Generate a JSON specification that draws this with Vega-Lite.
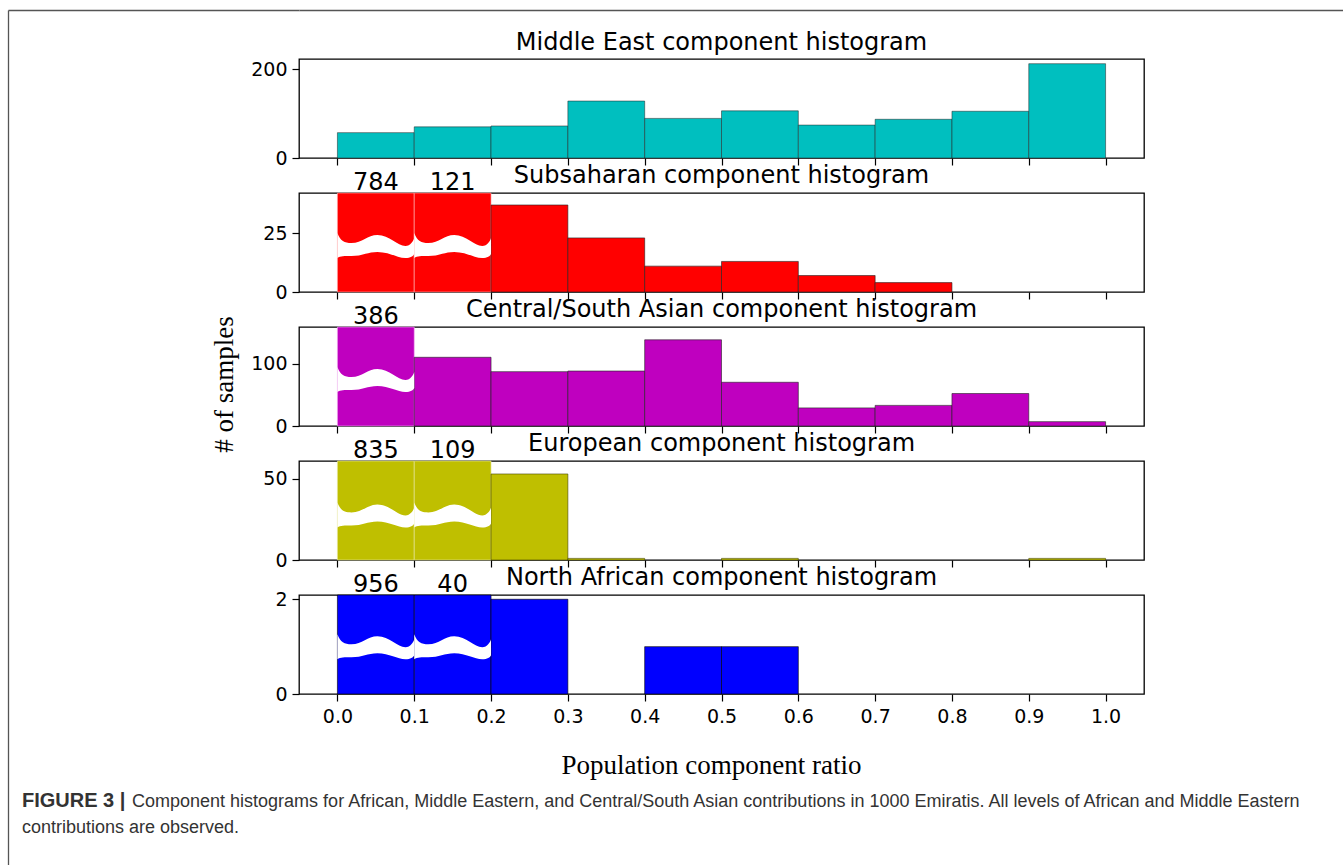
{
  "$schema": "https://vega.github.io/schema/vega-lite/v6.json",
  "padding": {"left": 8, "top": 10, "right": 0, "bottom": 0},
  "background": "white",
  "datasets": {
    "hist": [
      {"panel": "Middle East", "start": 0.0, "end": 0.1, "count": 57},
      {"panel": "Middle East", "start": 0.1, "end": 0.2, "count": 70},
      {"panel": "Middle East", "start": 0.2, "end": 0.3, "count": 72},
      {"panel": "Middle East", "start": 0.3, "end": 0.4, "count": 128},
      {"panel": "Middle East", "start": 0.4, "end": 0.5, "count": 89},
      {"panel": "Middle East", "start": 0.5, "end": 0.6, "count": 106},
      {"panel": "Middle East", "start": 0.6, "end": 0.7, "count": 74},
      {"panel": "Middle East", "start": 0.7, "end": 0.8, "count": 87},
      {"panel": "Middle East", "start": 0.8, "end": 0.9, "count": 105},
      {"panel": "Middle East", "start": 0.9, "end": 1.0, "count": 212},
      {"panel": "Subsaharan", "start": 0.0, "end": 0.1, "count": 784},
      {"panel": "Subsaharan", "start": 0.1, "end": 0.2, "count": 121},
      {"panel": "Subsaharan", "start": 0.2, "end": 0.3, "count": 37},
      {"panel": "Subsaharan", "start": 0.3, "end": 0.4, "count": 23},
      {"panel": "Subsaharan", "start": 0.4, "end": 0.5, "count": 11},
      {"panel": "Subsaharan", "start": 0.5, "end": 0.6, "count": 13},
      {"panel": "Subsaharan", "start": 0.6, "end": 0.7, "count": 7},
      {"panel": "Subsaharan", "start": 0.7, "end": 0.8, "count": 4},
      {"panel": "Central/South Asian", "start": 0.0, "end": 0.1, "count": 386},
      {"panel": "Central/South Asian", "start": 0.1, "end": 0.2, "count": 110},
      {"panel": "Central/South Asian", "start": 0.2, "end": 0.3, "count": 87},
      {"panel": "Central/South Asian", "start": 0.3, "end": 0.4, "count": 88},
      {"panel": "Central/South Asian", "start": 0.4, "end": 0.5, "count": 138},
      {"panel": "Central/South Asian", "start": 0.5, "end": 0.6, "count": 70},
      {"panel": "Central/South Asian", "start": 0.6, "end": 0.7, "count": 29},
      {"panel": "Central/South Asian", "start": 0.7, "end": 0.8, "count": 33},
      {"panel": "Central/South Asian", "start": 0.8, "end": 0.9, "count": 52},
      {"panel": "Central/South Asian", "start": 0.9, "end": 1.0, "count": 7},
      {"panel": "European", "start": 0.0, "end": 0.1, "count": 835},
      {"panel": "European", "start": 0.1, "end": 0.2, "count": 109},
      {"panel": "European", "start": 0.2, "end": 0.3, "count": 53},
      {"panel": "European", "start": 0.3, "end": 0.4, "count": 1},
      {"panel": "European", "start": 0.5, "end": 0.6, "count": 1},
      {"panel": "European", "start": 0.9, "end": 1.0, "count": 1},
      {"panel": "North African", "start": 0.0, "end": 0.1, "count": 956},
      {"panel": "North African", "start": 0.1, "end": 0.2, "count": 40},
      {"panel": "North African", "start": 0.2, "end": 0.3, "count": 2},
      {"panel": "North African", "start": 0.4, "end": 0.5, "count": 1},
      {"panel": "North African", "start": 0.5, "end": 0.6, "count": 1}
    ]
  },
  "bounds": "flush",
  "spacing": 0,
  "hconcat": [
    {
      "width": 291,
      "height": 855,
      "view": {"stroke": null},
      "data": {"values": [{}]},
      "title": {
        "text": "FIGURE 3 |",
        "subtitle": [
          "\u200b\u00a0\u00a0\u00a0\u00a0\u00a0\u00a0\u00a0\u00a0\u00a0\u00a0\u00a0\u00a0\u00a0\u00a0\u00a0\u00a0\u00a0\u00a0\u00a0\u00a0\u00a0\u00a0Component histograms for African, Middle Eastern, and Central/South Asian contributions in 1000 Emiratis. All levels of African and Middle Eastern",
          "contributions are observed."
        ],
        "orient": "bottom",
        "anchor": "start",
        "frame": "group",
        "offset": -74,
        "dx": 14,
        "font": "Liberation Sans",
        "fontSize": 20,
        "fontWeight": "bold",
        "color": "#333333",
        "subtitleFont": "Liberation Sans",
        "subtitleFontSize": 18,
        "subtitleFontWeight": "normal",
        "subtitleColor": "#333333",
        "subtitlePadding": -18.4,
        "subtitleLineHeight": 26
      },
      "mark": {"type": "point", "size": 0, "opacity": 0},
      "encoding": {
        "x": {"datum": 0, "type": "quantitative", "scale": {"domain": [0, 1]},
          "axis": {"orient": "top", "domain": true, "domainColor": "#555555", "domainWidth": 1.3, "ticks": false, "labels": false, "grid": false, "title": null}},
        "y": {"datum": 1, "type": "quantitative", "scale": {"domain": [0, 1]},
          "axis": {"orient": "left", "domain": true, "domainColor": "#555555", "domainWidth": 1.3, "ticks": false, "labels": false, "grid": false, "title": null}}
      }
    },
    {
      "bounds": "flush",
      "spacing": 35,
      "vconcat": [
        {
          "width": 1044,
          "height": 14,
          "view": {"stroke": null},
          "data": {"values": [{}]},
          "mark": {"type": "point", "size": 0, "opacity": 0},
          "encoding": {
            "x": {"datum": 0, "type": "quantitative", "scale": {"domain": [0, 1]},
              "axis": {"orient": "top", "domain": true, "domainColor": "#555555", "domainWidth": 1.3, "ticks": false, "labels": false, "grid": false, "title": null}}
          }
        },
        {
          "width": 845,
          "height": 99,
          "title": {"text": "Middle East component histogram", "frame": "group", "offset": 4},
          "data": {"name": "hist"},
          "transform": [{"filter": {"field": "panel", "equal": "Middle East"}}],
          "mark": {"type": "rect", "fill": "#00bfbf", "stroke": "#222222", "strokeWidth": 0.5},
          "encoding": {
            "x": {"field": "start", "type": "quantitative", "scale": {"domain": [-0.05, 1.05], "nice": false, "zero": false},
              "axis": {"values": [0, 0.1, 0.2, 0.3, 0.4, 0.5, 0.6, 0.7, 0.8, 0.9, 1.0], "labels": false, "title": null}},
            "x2": {"field": "end"},
            "y": {"field": "count", "type": "quantitative", "scale": {"domain": [0, 222.5], "nice": false, "clamp": true},
              "axis": {"values": [0, 200], "title": null}},
            "y2": {"datum": 0}
          }
        },
        {
          "width": 845,
          "height": 99,
          "title": {"text": "Subsaharan component histogram", "frame": "group", "offset": -17},
          "data": {"name": "hist"},
          "transform": [{"filter": {"field": "panel", "equal": "Subsaharan"}}],
          "encoding": {
            "x": {"field": "start", "type": "quantitative", "scale": {"domain": [-0.05, 1.05], "nice": false, "zero": false},
              "axis": {"values": [0, 0.1, 0.2, 0.3, 0.4, 0.5, 0.6, 0.7, 0.8, 0.9, 1.0], "labels": false, "title": null}},
            "y": {"field": "count", "type": "quantitative", "scale": {"domain": [0, 42.1], "nice": false, "clamp": true},
              "axis": {"values": [0, 25], "title": null}}
          },
          "layer": [
            {
              "mark": {"type": "rect", "fill": "#ff0000", "strokeWidth": 0.6},
              "encoding": {
                "x2": {"field": "end"},
                "y2": {"datum": 0},
                "stroke": {"condition": {"test": "datum.count > 42.1", "value": "#ffb0b0"}, "value": "#222222"}
              }
            },
            {
              "transform": [{"filter": "datum.count > 42.1"}],
              "mark": {"type": "text", "dx": 38.4, "dy": -3, "baseline": "alphabetic", "align": "center", "font": "DejaVu Sans", "fontSize": 24, "color": "#000000"},
              "encoding": {"text": {"field": "count", "type": "quantitative"}}
            },
            {
              "transform": [{"filter": "datum.count > 42.1"}],
              "mark": {"type": "point", "shape": "M0,-0.286 C0.078,-0.078 0.182,-0.026 0.365,-0.026 C0.651,-0.026 0.781,-0.234 1.042,-0.234 C1.354,-0.234 1.563,0.052 1.771,0.052 C1.901,0.052 1.979,-0.078 2,-0.156 L2,0.26 C1.979,0.313 1.901,0.365 1.771,0.365 C1.563,0.365 1.354,0.208 1.042,0.208 C0.781,0.208 0.651,0.313 0.365,0.313 C0.182,0.313 0.078,0.313 0,0.365 Z", "size": 5898, "filled": true, "fill": "#ffffff", "opacity": 1, "strokeWidth": 0},
              "encoding": {"y": {"datum": 20.4}}
            }
          ]
        },
        {
          "width": 845,
          "height": 99,
          "title": {"text": "Central/South Asian component histogram", "frame": "group", "offset": -17},
          "data": {"name": "hist"},
          "transform": [{"filter": {"field": "panel", "equal": "Central/South Asian"}}],
          "encoding": {
            "x": {"field": "start", "type": "quantitative", "scale": {"domain": [-0.05, 1.05], "nice": false, "zero": false},
              "axis": {"values": [0, 0.1, 0.2, 0.3, 0.4, 0.5, 0.6, 0.7, 0.8, 0.9, 1.0], "labels": false, "title": null}},
            "y": {"field": "count", "type": "quantitative", "scale": {"domain": [0, 158.5], "nice": false, "clamp": true},
              "axis": {"values": [0, 100], "title": "# of samples", "titleFont": "Liberation Serif", "titleFontSize": 27, "titleFontWeight": "normal", "titleColor": "#000000", "titlePadding": 12, "titleY": 57}}
          },
          "layer": [
            {
              "mark": {"type": "rect", "fill": "#bf00bf", "strokeWidth": 0.6},
              "encoding": {
                "x2": {"field": "end"},
                "y2": {"datum": 0},
                "stroke": {"condition": {"test": "datum.count > 158.5", "value": "#f0b0f0"}, "value": "#222222"}
              }
            },
            {
              "transform": [{"filter": "datum.count > 158.5"}],
              "mark": {"type": "text", "dx": 38.4, "dy": -3, "baseline": "alphabetic", "align": "center", "font": "DejaVu Sans", "fontSize": 24, "color": "#000000"},
              "encoding": {"text": {"field": "count", "type": "quantitative"}}
            },
            {
              "transform": [{"filter": "datum.count > 158.5"}],
              "mark": {"type": "point", "shape": "M0,-0.286 C0.078,-0.078 0.182,-0.026 0.365,-0.026 C0.651,-0.026 0.781,-0.234 1.042,-0.234 C1.354,-0.234 1.563,0.052 1.771,0.052 C1.901,0.052 1.979,-0.078 2,-0.156 L2,0.26 C1.979,0.313 1.901,0.365 1.771,0.365 C1.563,0.365 1.354,0.208 1.042,0.208 C0.781,0.208 0.651,0.313 0.365,0.313 C0.182,0.313 0.078,0.313 0,0.365 Z", "size": 5898, "filled": true, "fill": "#ffffff", "opacity": 1, "strokeWidth": 0},
              "encoding": {"y": {"datum": 77}}
            }
          ]
        },
        {
          "width": 845,
          "height": 99,
          "title": {"text": "European component histogram", "frame": "group", "offset": -17},
          "data": {"name": "hist"},
          "transform": [{"filter": {"field": "panel", "equal": "European"}}],
          "encoding": {
            "x": {"field": "start", "type": "quantitative", "scale": {"domain": [-0.05, 1.05], "nice": false, "zero": false},
              "axis": {"values": [0, 0.1, 0.2, 0.3, 0.4, 0.5, 0.6, 0.7, 0.8, 0.9, 1.0], "labels": false, "title": null}},
            "y": {"field": "count", "type": "quantitative", "scale": {"domain": [0, 61], "nice": false, "clamp": true},
              "axis": {"values": [0, 50], "title": null}}
          },
          "layer": [
            {
              "mark": {"type": "rect", "fill": "#bfbf00", "strokeWidth": 0.6},
              "encoding": {
                "x2": {"field": "end"},
                "y2": {"datum": 0},
                "stroke": {"condition": {"test": "datum.count > 61", "value": "#e8e8a0"}, "value": "#444400"}
              }
            },
            {
              "transform": [{"filter": "datum.count > 61"}],
              "mark": {"type": "text", "dx": 38.4, "dy": -3, "baseline": "alphabetic", "align": "center", "font": "DejaVu Sans", "fontSize": 24, "color": "#000000"},
              "encoding": {"text": {"field": "count", "type": "quantitative"}}
            },
            {
              "transform": [{"filter": "datum.count > 61"}],
              "mark": {"type": "point", "shape": "M0,-0.286 C0.078,-0.078 0.182,-0.026 0.365,-0.026 C0.651,-0.026 0.781,-0.234 1.042,-0.234 C1.354,-0.234 1.563,0.052 1.771,0.052 C1.901,0.052 1.979,-0.078 2,-0.156 L2,0.26 C1.979,0.313 1.901,0.365 1.771,0.365 C1.563,0.365 1.354,0.208 1.042,0.208 C0.781,0.208 0.651,0.313 0.365,0.313 C0.182,0.313 0.078,0.313 0,0.365 Z", "size": 5898, "filled": true, "fill": "#ffffff", "opacity": 1, "strokeWidth": 0},
              "encoding": {"y": {"datum": 28.7}}
            }
          ]
        },
        {
          "width": 845,
          "height": 99,
          "title": {"text": "North African component histogram", "frame": "group", "offset": -17},
          "data": {"name": "hist"},
          "transform": [{"filter": {"field": "panel", "equal": "North African"}}],
          "encoding": {
            "x": {"field": "start", "type": "quantitative", "scale": {"domain": [-0.05, 1.05], "nice": false, "zero": false},
              "axis": {"values": [0, 0.1, 0.2, 0.3, 0.4, 0.5, 0.6, 0.7, 0.8, 0.9, 1.0], "format": ".1f", "labelPadding": 6,
                "title": "Population component ratio", "titleFont": "Liberation Serif", "titleFontSize": 27, "titleFontWeight": "normal", "titleColor": "#000000", "titlePadding": 26, "titleX": 412}},
            "y": {"field": "count", "type": "quantitative", "scale": {"domain": [0, 2.09], "nice": false, "clamp": true},
              "axis": {"values": [0, 2], "title": null}}
          },
          "layer": [
            {
              "mark": {"type": "rect", "fill": "#0000ff", "stroke": "#000000", "strokeWidth": 0.6},
              "encoding": {
                "x2": {"field": "end"},
                "y2": {"datum": 0}
              }
            },
            {
              "transform": [{"filter": "datum.count > 2.09"}],
              "mark": {"type": "text", "dx": 38.4, "dy": -3, "baseline": "alphabetic", "align": "center", "font": "DejaVu Sans", "fontSize": 24, "color": "#000000"},
              "encoding": {"text": {"field": "count", "type": "quantitative"}}
            },
            {
              "transform": [{"filter": "datum.count > 2.09"}],
              "mark": {"type": "point", "shape": "M0,-0.286 C0.078,-0.078 0.182,-0.026 0.365,-0.026 C0.651,-0.026 0.781,-0.234 1.042,-0.234 C1.354,-0.234 1.563,0.052 1.771,0.052 C1.901,0.052 1.979,-0.078 2,-0.156 L2,0.26 C1.979,0.313 1.901,0.365 1.771,0.365 C1.563,0.365 1.354,0.208 1.042,0.208 C0.781,0.208 0.651,0.313 0.365,0.313 C0.182,0.313 0.078,0.313 0,0.365 Z", "size": 5898, "filled": true, "fill": "#ffffff", "opacity": 1, "strokeWidth": 0},
              "encoding": {"y": {"datum": 1.03}}
            }
          ]
        }
      ]
    }
  ],
  "config": {
    "view": {"stroke": "#000000", "strokeWidth": 1.3},
    "axis": {
      "domain": false,
      "grid": false,
      "labelFont": "DejaVu Sans",
      "labelFontSize": 19,
      "labelColor": "#000000",
      "tickColor": "#000000",
      "tickSize": 7,
      "tickWidth": 1.2,
      "labelPadding": 5
    },
    "title": {"font": "DejaVu Sans", "fontSize": 24, "fontWeight": "normal", "color": "#000000"},
    "number": {"format": "d"}
  }
}
